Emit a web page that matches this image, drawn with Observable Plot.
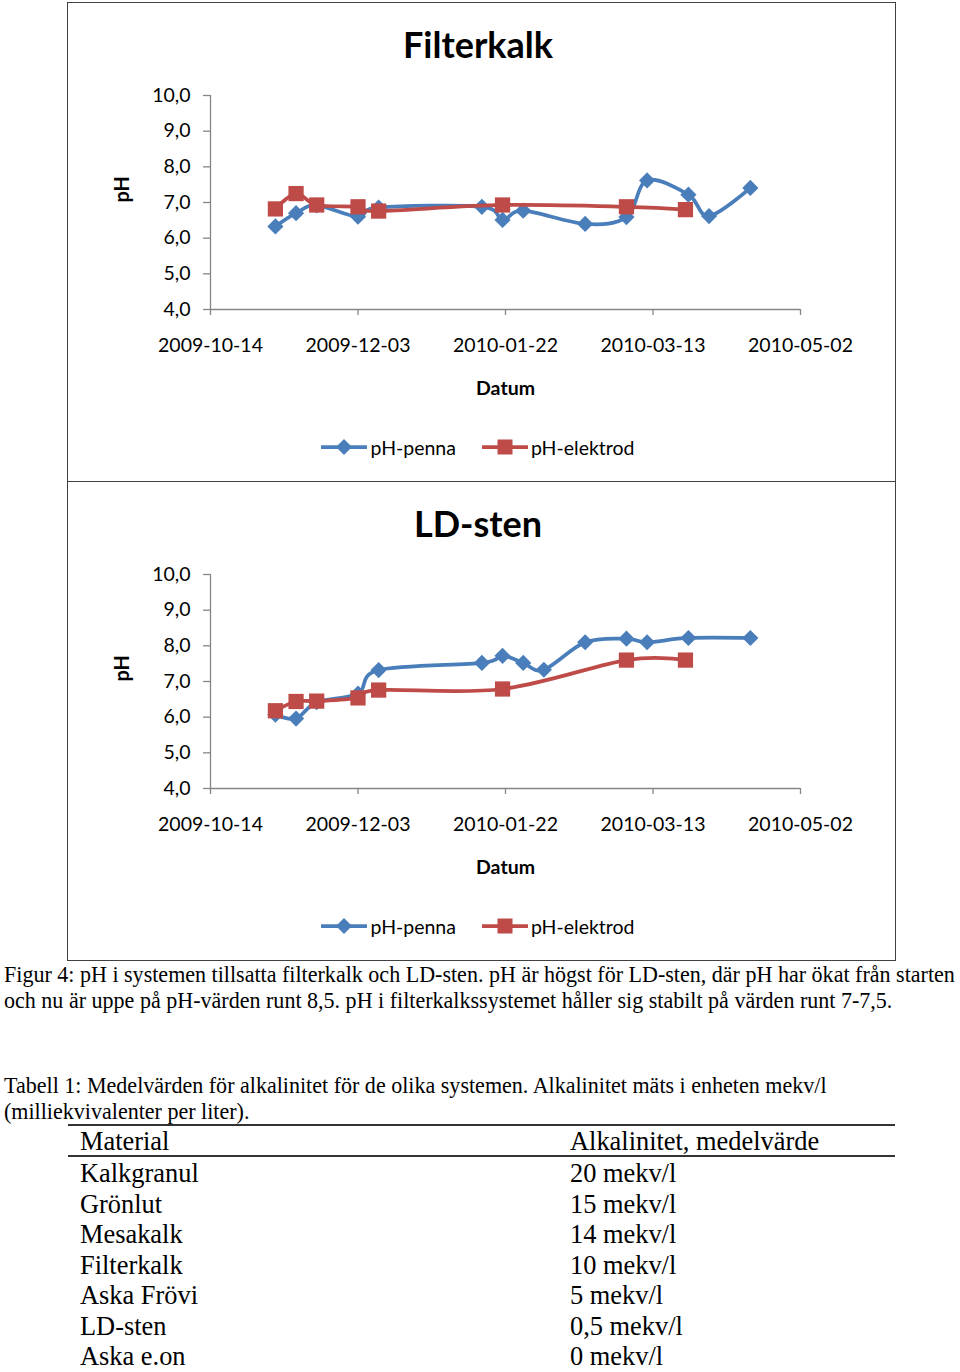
<!DOCTYPE html>
<html>
<head>
<meta charset="utf-8">
<script src="https://cdn.jsdelivr.net/npm/d3@7"></script>
<script src="https://cdn.jsdelivr.net/npm/@observablehq/plot@0.6"></script>
<style>
  html, body { margin: 0; padding: 0; background: #fff; }
  body { width: 960px; height: 1372px; position: relative; overflow: hidden; }
  .box { position: absolute; left: 67px; width: 829px; height: 480px; box-sizing: border-box;
         border: 1px solid #404040; font-family: Lato, "Open Sans", sans-serif; color: #000; background: #fff; }
  .title { height: 66px; line-height: 82px; text-align: center; font-weight: bold; font-size: 36px; white-space: nowrap; padding-right: 7px; }
  .plot svg { display: block; }
  .legend { margin-top: 19px; height: 38px; display: flex; justify-content: center; align-items: center;
            font-size: 19.5px; padding-right: 7px; }
  .legend .item { display: flex; align-items: center; }
  .legend .item + .item { margin-left: 26px; }
  .legend svg { display: block; margin-right: 3px; }
  .serif { position: absolute; left: 4px; font-family: "Liberation Serif", "Times New Roman", serif;
           font-size: 22.05px; line-height: 26px; white-space: nowrap; color: #000; }
  .table { position: absolute; left: 68px; top: 1124px; width: 827px; font-family: "Liberation Serif", "Times New Roman", serif;
           font-size: 26.4px; color: #000; }
  .table .rule { height: 2px; background: #333; }
  .table .row { display: flex; height: 30.5px; line-height: 30.5px; white-space: nowrap; }
  .table .head { height: 28px; line-height: 28px; padding-top: 1px; }
  .table .c1 { width: 490px; padding-left: 12px; }
  .table .c2 { flex: 1; }
  .table .body { padding-top: 1px; }
</style>
</head>
<body>
<div id="box1" class="box" style="top:2px"></div>
<div id="box2" class="box" style="top:481px"></div>
<div id="caption" class="serif" style="top:962px"></div>
<div id="tabcap" class="serif" style="top:1073px"></div>
<div id="table" class="table"></div>
<script>
// ---------- data ----------
const seriesNames = ["pH-penna", "pH-elektrod"];
const chartTitles = ["Filterkalk", "LD-sten"];
const xTickLabels = ["2009-10-14", "2009-12-03", "2010-01-22", "2010-03-13", "2010-05-02"];
const yTickValues = [4, 5, 6, 7, 8, 9, 10];

const filterPennaDates = ["2009-11-05","2009-11-12","2009-11-19","2009-12-03","2009-12-10","2010-01-14","2010-01-21","2010-01-28","2010-02-18","2010-03-04","2010-03-11","2010-03-25","2010-04-01","2010-04-15"];
const filterPennaPH    = [6.33, 6.70, 6.92, 6.60, 6.86, 6.88, 6.51, 6.77, 6.40, 6.59, 7.62, 7.22, 6.62, 7.41];
const filterElektrodDates = ["2009-11-05","2009-11-12","2009-11-19","2009-12-03","2009-12-10","2010-01-21","2010-03-04","2010-03-24"];
const filterElektrodPH    = [6.82, 7.25, 6.93, 6.88, 6.76, 6.93, 6.88, 6.80];

const ldPennaDates = ["2009-11-05","2009-11-12","2009-11-19","2009-12-03","2009-12-10","2010-01-14","2010-01-21","2010-01-28","2010-02-04","2010-02-18","2010-03-04","2010-03-11","2010-03-25","2010-04-15"];
const ldPennaPH    = [6.07, 5.96, 6.42, 6.66, 7.32, 7.52, 7.72, 7.52, 7.33, 8.10, 8.20, 8.10, 8.22, 8.22];
const ldElektrodDates = ["2009-11-05","2009-11-12","2009-11-19","2009-12-03","2009-12-10","2010-01-21","2010-03-04","2010-03-24"];
const ldElektrodPH    = [6.18, 6.44, 6.45, 6.54, 6.76, 6.79, 7.60, 7.60];

const captionLines = [
  "Figur 4: pH i systemen tillsatta filterkalk och LD-sten. pH är högst för LD-sten, där pH har ökat från starten",
  "och nu är uppe på pH-värden runt 8,5. pH i filterkalkssystemet håller sig stabilt på värden runt 7-7,5."
];
const tableCaptionLines = [
  "Tabell 1: Medelvärden för alkalinitet för de olika systemen. Alkalinitet mäts i enheten mekv/l",
  "(milliekvivalenter per liter)."
];
const tableHeader = ["Material", "Alkalinitet, medelvärde"];
const materials = ["Kalkgranul", "Grönlut", "Mesakalk", "Filterkalk", "Aska Frövi", "LD-sten", "Aska e.on"];
const alkalinity = ["20 mekv/l", "15 mekv/l", "14 mekv/l", "10 mekv/l", "5 mekv/l", "0,5 mekv/l", "0 mekv/l"];

// ---------- styling ----------
const BLUE = "#4A7EBB", RED = "#BE4B48", AXIS = "#868686";
const parse = d3.utcParse("%Y-%m-%d");
const fmtDate = d3.utcFormat("%Y-%m-%d");
const fmtPH = d => d.toFixed(1).replace(".", ",");
const xTicks = xTickLabels.map(parse);
const xStart = xTicks[0], xEnd = xTicks[xTicks.length - 1];

function rows(dates, vals) { return dates.map((d, i) => ({date: parse(d), ph: vals[i]})); }

function makeChart(penna, elektrod) {
  return Plot.plot({
    width: 827, height: 340,
    marginLeft: 142, marginRight: 95, marginTop: 26, marginBottom: 100,
    style: {fontFamily: "Lato, 'Open Sans', sans-serif", fontSize: "19.5px", color: "#000", background: "#fff", overflow: "visible"},
    x: {type: "utc", domain: [xStart, xEnd], axis: null},
    y: {domain: [4, 10], axis: null},
    marks: [
      Plot.ruleX([xStart], {y1: 4, y2: 10, stroke: AXIS, strokeWidth: 1.3}),
      Plot.ruleY([4], {x1: xStart, x2: xEnd, stroke: AXIS, strokeWidth: 1.3}),
      Plot.axisY({ticks: yTickValues, tickSize: 7, tickPadding: 13, tickFormat: fmtPH, stroke: AXIS, fill: "#000", strokeWidth: 1.3, label: null}),
      Plot.axisX({ticks: xTicks, tickSize: 6, tickPadding: 23, tickFormat: fmtDate, stroke: AXIS, fill: "#000", strokeWidth: 1.3, label: null}),
      Plot.text(["pH"], {frameAnchor: "left", dx: -88, rotate: -90, fontWeight: "bold", fontSize: 20}),
      Plot.text(["Datum"], {frameAnchor: "bottom", dy: 85, fontWeight: "bold", fontSize: 19.5}),
      Plot.line(penna, {x: "date", y: "ph", stroke: BLUE, strokeWidth: 3.75, curve: "cardinal"}),
      Plot.dot(penna, {x: "date", y: "ph", symbol: "diamond2", r: 7.3, fill: BLUE, stroke: "none"}),
      Plot.line(elektrod, {x: "date", y: "ph", stroke: RED, strokeWidth: 3.75, curve: "cardinal"}),
      Plot.dot(elektrod, {x: "date", y: "ph", symbol: "square", r: 8.6, fill: RED, stroke: "none"})
    ]
  });
}

function legendSwatch(color, shape) {
  const ns = "http://www.w3.org/2000/svg";
  const svg = document.createElementNS(ns, "svg");
  svg.setAttribute("width", 46); svg.setAttribute("height", 20);
  const line = document.createElementNS(ns, "line");
  line.setAttribute("x1", 0); line.setAttribute("x2", 46); line.setAttribute("y1", 10); line.setAttribute("y2", 10);
  line.setAttribute("stroke", color); line.setAttribute("stroke-width", 3.75);
  svg.appendChild(line);
  const p = document.createElementNS(ns, "path");
  p.setAttribute("d", shape === "diamond" ? "M23,2L31,10L23,18L15,10Z" : "M15.5,2.5H30.5V17.5H15.5Z");
  p.setAttribute("fill", color);
  svg.appendChild(p);
  return svg;
}

function fillBox(box, title, penna, elektrod) {
  const t = document.createElement("div"); t.className = "title"; t.textContent = title; box.appendChild(t);
  const p = document.createElement("div"); p.className = "plot"; p.appendChild(makeChart(penna, elektrod)); box.appendChild(p);
  const lg = document.createElement("div"); lg.className = "legend";
  [[seriesNames[0], BLUE, "diamond"], [seriesNames[1], RED, "square"]].forEach(([name, c, s]) => {
    const it = document.createElement("div"); it.className = "item";
    it.appendChild(legendSwatch(c, s));
    const sp = document.createElement("span"); sp.textContent = name; it.appendChild(sp);
    lg.appendChild(it);
  });
  box.appendChild(lg);
}

fillBox(document.getElementById("box1"), chartTitles[0], rows(filterPennaDates, filterPennaPH), rows(filterElektrodDates, filterElektrodPH));
fillBox(document.getElementById("box2"), chartTitles[1], rows(ldPennaDates, ldPennaPH), rows(ldElektrodDates, ldElektrodPH));

function setLines(el, lines) {
  lines.forEach((l, i) => { if (i) el.appendChild(document.createElement("br")); el.appendChild(document.createTextNode(l)); });
}
setLines(document.getElementById("caption"), captionLines);
setLines(document.getElementById("tabcap"), tableCaptionLines);

const tb = document.getElementById("table");
function addRule() { const r = document.createElement("div"); r.className = "rule"; tb.appendChild(r); }
function addRow(a, b, cls) {
  const r = document.createElement("div"); r.className = "row" + (cls ? " " + cls : "");
  const c1 = document.createElement("div"); c1.className = "c1"; c1.textContent = a;
  const c2 = document.createElement("div"); c2.className = "c2"; c2.textContent = b;
  r.appendChild(c1); r.appendChild(c2); tb.appendChild(r);
}
addRule();
addRow(tableHeader[0], tableHeader[1], "head");
addRule();
const bodyDiv = document.createElement("div"); bodyDiv.className = "body"; tb.appendChild(bodyDiv);
materials.forEach((m, i) => addRow(m, alkalinity[i]));
addRule();
</script>
</body>
</html>
